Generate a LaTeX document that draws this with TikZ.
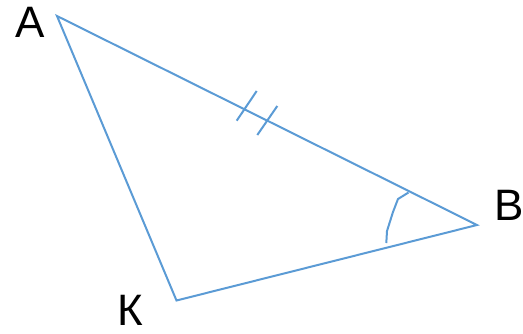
\documentclass[tikz,border=0pt]{standalone}
\usepackage{fontspec}
\setmainfont{Liberation Sans}
\definecolor{lineblue}{RGB}{91,155,213}
\begin{document}
\begin{tikzpicture}[x=1pt,y=-1pt,
  edge/.style={draw=lineblue,line width=2pt,line join=miter},
  lbl/.style={font=\fontsize{44}{44}\selectfont,inner sep=0pt,anchor=base}]
\useasboundingbox (0,0) rectangle (523,333);
\coordinate (A) at (57,16);
\coordinate (B) at (477,225);
\coordinate (K) at (176.5,300.5);
\draw[edge] (A) -- (B) -- (K) -- cycle;
% tick marks
\coordinate (t1a) at (236.7,120.7);
\coordinate (t1b) at (256.7,91);
\coordinate (t2a) at (257.3,135);
\coordinate (t2b) at (277.3,106);
\draw[edge] (t1a) -- (t1b);
\draw[edge] (t2a) -- (t2b);
% angle mark at B
\coordinate (g1) at (408.5,192.5);
\coordinate (g2) at (398,199);
\coordinate (g3) at (393,212);
\coordinate (g4) at (387,231);
\coordinate (g5) at (386.3,243);
\draw[edge] (g1) -- (g2) -- (g3) -- (g4) -- (g5);
\node[lbl] (la) at (30,37) {A};
\node[lbl] (lb) at (509,220) {B};
\node[lbl] (lk) at (130,325) {К};
\end{tikzpicture}
\end{document}
